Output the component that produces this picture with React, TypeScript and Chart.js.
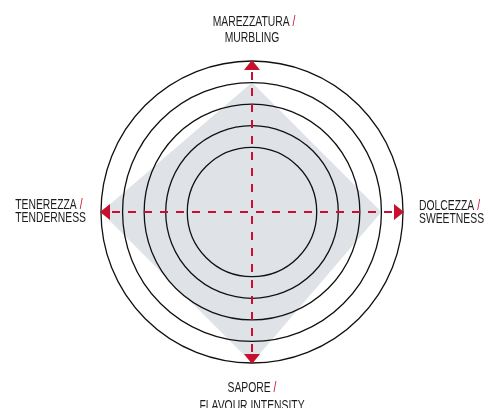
import React, { useEffect, useRef } from "react";
import { Chart, registerables } from "chart.js";

Chart.register(...registerables);

const labelsTop: string[] = ["MAREZZATURA", "DOLCEZZA", "SAPORE", "TENEREZZA"];
const labelsBottom: string[] = ["MURBLING", "SWEETNESS", "FLAVOUR INTENSITY", "TENDERNESS"];
const values: number[] = [6, 6, 7, 7];
const scaleMin = 0;
const scaleMax = 7;
const firstRing = 3;

const RED = "#c8102e";
const TEXT = "#1e1b1c";
const FILL = "#dfe3e8";
const FONT = '14px "Liberation Sans", Arial, sans-serif';
const SX = 0.74;

const decorPlugin = {
  id: "decor",
  afterDraw(chart: any) {
    const scale = chart.scales.r;
    const ctx = chart.ctx as CanvasRenderingContext2D;
    const R = scale.drawingArea;
    const n = chart.data.labels.length;
    ctx.save();
    // arrows
    for (let i = 0; i < n; i++) {
      const a = scale.getIndexAngle(i) - Math.PI / 2;
      const tip = scale.getPointPosition(i, R + 1);
      const base = scale.getPointPosition(i, R - 9);
      const px = -Math.sin(a) * 8;
      const py = Math.cos(a) * 8;
      ctx.fillStyle = RED;
      ctx.beginPath();
      ctx.moveTo(tip.x, tip.y);
      ctx.lineTo(base.x + px, base.y + py);
      ctx.lineTo(base.x - px, base.y - py);
      ctx.closePath();
      ctx.fill();
    }
    // labels
    ctx.font = FONT;
    ctx.textBaseline = "alphabetic";
    ctx.textAlign = "left";
    const drawLine = (text: string, slash: boolean, x: number, y: number) => {
      ctx.save();
      ctx.translate(x, y);
      ctx.scale(SX, 1);
      ctx.fillStyle = TEXT;
      ctx.fillText(text, 0, 0);
      if (slash) {
        const w = ctx.measureText(text + " ").width;
        ctx.fillStyle = RED;
        ctx.fillText("/", w, 0);
      }
      ctx.restore();
    };
    const lineWidth = (text: string, slash: boolean) =>
      ctx.measureText(slash ? text + " /" : text).width * SX;
    for (let i = 0; i < n; i++) {
      const p = scale.getPointPosition(i, R + 16);
      const l1 = labelsTop[i];
      const l2 = labelsBottom[i];
      const w1 = lineWidth(l1, true);
      const w2 = lineWidth(l2, false);
      if (i === 0) {
        drawLine(l1, true, p.x - w1 / 2 + 2, p.y - 19);
        drawLine(l2, false, p.x - w2 / 2, p.y - 3);
      } else if (i === 2) {
        drawLine(l1, true, p.x - w1 / 2, p.y + 13);
        drawLine(l2, false, p.x - w2 / 2, p.y + 31);
      } else if (i === 1) {
        drawLine(l1, true, p.x, scale.yCenter - 2.5);
        drawLine(l2, false, p.x, scale.yCenter + 10.5);
      } else {
        const mw = Math.max(w1, w2);
        drawLine(l1, true, p.x - mw + 1, scale.yCenter - 3.5);
        drawLine(l2, false, p.x - mw + 1, scale.yCenter + 9.5);
      }
    }
    ctx.restore();
  },
};

export default function App() {
  const ref = useRef<HTMLCanvasElement | null>(null);
  useEffect(() => {
    if (!ref.current) return;
    const chart = new Chart(ref.current, {
      type: "radar",
      data: {
        labels: labelsTop.map((t, i) => [t + " /", labelsBottom[i]]),
        datasets: [
          {
            data: values,
            backgroundColor: FILL,
            borderWidth: 0,
            borderColor: "rgba(0,0,0,0)",
            pointRadius: 0,
            fill: true,
          },
        ],
      },
      options: {
        animation: false,
        responsive: true,
        maintainAspectRatio: false,
        layout: { padding: { left: 101, right: 83, top: 61, bottom: 45 } },
        plugins: { legend: { display: false }, tooltip: { enabled: false } },
        scales: {
          r: {
            min: scaleMin,
            max: scaleMax,
            ticks: { display: false, stepSize: 1 },
            pointLabels: { display: false },
            grid: {
              circular: true,
              z: 1,
              lineWidth: 1.3,
              color: (c: any) => (c.tick && c.tick.value >= firstRing ? "#111111" : "rgba(0,0,0,0)"),
            },
            angleLines: {
              color: RED,
              lineWidth: 2,
              borderDash: [8, 8],
              borderDashOffset: 12,
            },
          },
        },
      },
      plugins: [decorPlugin],
    } as any);
    return () => chart.destroy();
  }, []);
  return (
    <div style={{ position: "fixed", left: 0, top: 0, width: 486, height: 408 }}>
      <canvas ref={ref} />
    </div>
  );
}
